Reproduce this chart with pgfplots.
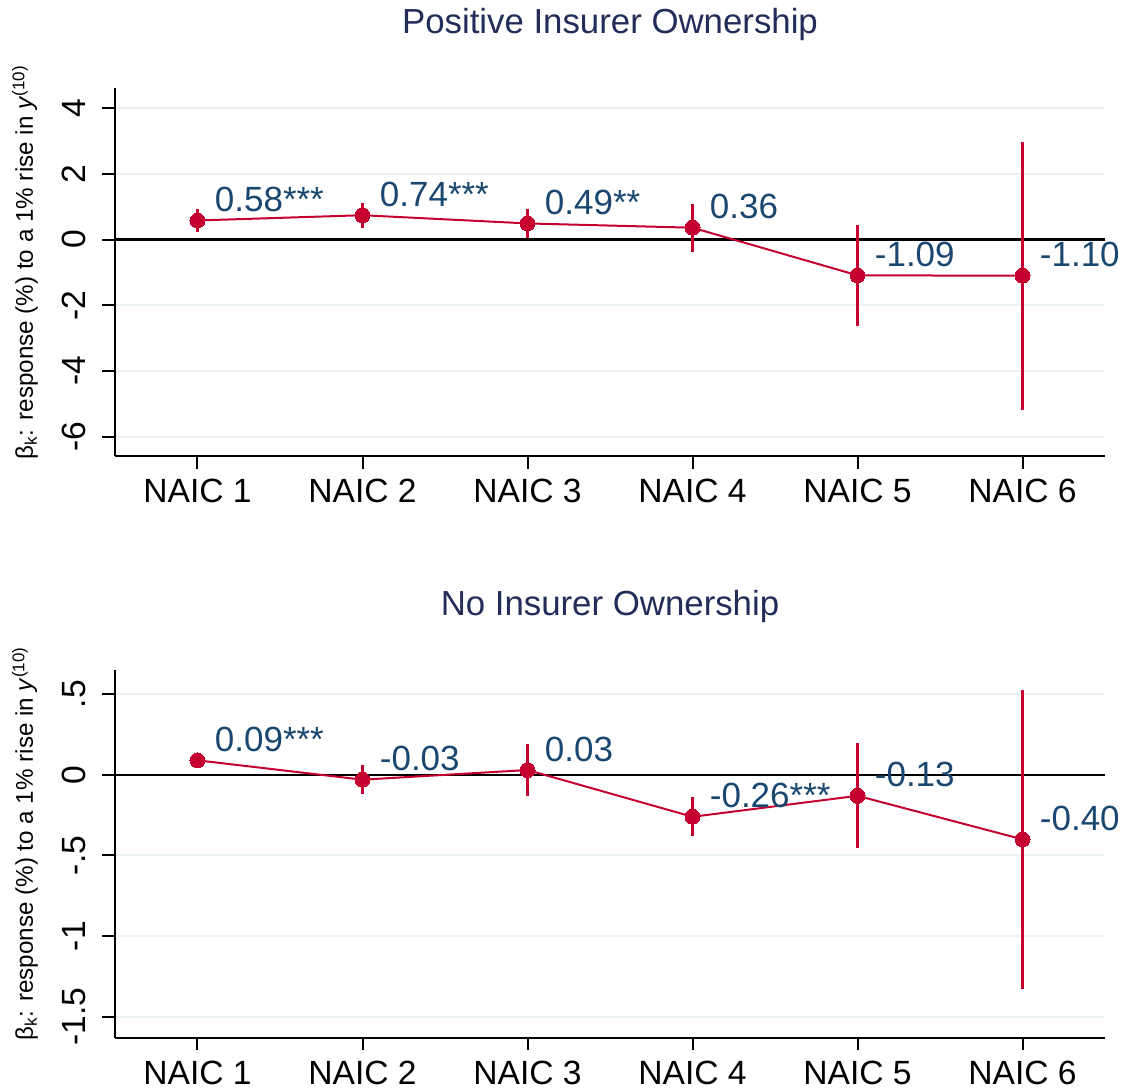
\documentclass[border=0pt]{standalone}
\usepackage{fontspec}
\setmainfont{Liberation Sans}
\usepackage{pgfplots}
\usepackage{pgfplotstable}
\pgfplotsset{compat=1.18}
\definecolor{sred}{RGB}{196,0,48}
\definecolor{lblue}{RGB}{26,71,111}
\definecolor{tblue}{RGB}{35,45,90}
\definecolor{gridc}{RGB}{234,242,243}

\pgfplotstableread{
x y e lab
1 0.58 0.35 0.58***
2 0.74 0.38 0.74***
3 0.49 0.45 0.49**
4 0.36 0.73 0.36
5 -1.09 1.53 -1.09
6 -1.10 4.08 -1.10
}\toptab

\pgfplotstableread{
x y e lab
1 0.09 0.015 0.09***
2 -0.03 0.088 -0.03
3 0.03 0.16 0.03
4 -0.26 0.122 -0.26***
5 -0.13 0.326 -0.13
6 -0.40 0.927 -0.40
}\bottab

\pgfplotsset{
 common/.style={
  scale only axis, width=495pt, height=184pt,
  xmin=0.5, xmax=6.5,
  axis lines*=left,
  axis line style={line width=1pt},
  tick align=outside,
  major tick length=6.25pt,
  tick style={line width=1pt, black},
  xtick={1,...,6},
  xticklabels={NAIC 1,NAIC 2,NAIC 3,NAIC 4,NAIC 5,NAIC 6},
  ymajorgrids, grid style={gridc, line width=1pt},
  ticklabel style={font=\fontsize{16.8}{18}\selectfont},
  xticklabel style={anchor=base, yshift=-17pt},
  yticklabel style={xshift=-8.5pt, rotate=90, anchor=base},
  every axis title/.style={at={(axis description cs:0.5,1)}, anchor=base, yshift=27.3pt, font=\fontsize{17.4}{20}\selectfont, text=tblue},
  every axis y label/.style={at={([xshift=-45pt, yshift=5pt]axis description cs:0,0.5)}, rotate=90, anchor=center, font=\fontsize{12.1}{14}\selectfont},
  ylabel={β\textsubscript{k}: response (\%) to a 1\% rise in \textit{y}\textsuperscript{(10)}},
  clip=false,
 },
 lbls/.style={draw=none, mark=none, nodes near coords, point meta=explicit symbolic,
  every node near coord/.append style={anchor=base west, xshift=8.5pt, yshift=4.5pt, inner sep=0pt, font=\fontsize{17.5}{20}\selectfont, text=lblue}},
 dat/.style={sred, line width=1pt, mark=*, mark size=3.75pt, mark options={fill=sred, draw=sred, line width=0pt},
  error bars/.cd, y dir=both, y explicit, error mark=none, error bar style={line width=1.5pt, sred}},
}

\begin{document}
\begin{tikzpicture}
\useasboundingbox (-57.5pt,-25.65pt) rectangle (505pt,518.85pt);
\begin{axis}[common, at={(0,290.65pt)}, anchor=south west,
  title={Positive Insurer Ownership},
  ymin=-6.6, ymax=4.6, ytick={-6,-4,-2,0,2,4}, yticklabels={-6,-4,-2,0,2,4}]
  \addplot[lbls] table[x=x, y=y, meta=lab] {\toptab};
  \addplot[black, line width=1.2pt] coordinates {(0.5,0) (6.5,0)};
  \addplot[dat] table[x=x, y=y, y error=e] {\toptab};
\end{axis}
\begin{axis}[common, at={(0,0)}, anchor=south west,
  title={No Insurer Ownership},
  ymin=-1.63, ymax=0.652, ytick={-1.5,-1,-0.5,0,0.5}, yticklabels={-1.5,-1,-.5,0,.5}]
  \addplot[lbls] table[x=x, y=y, meta=lab] {\bottab};
  \addplot[black, line width=1.2pt] coordinates {(0.5,0) (6.5,0)};
  \addplot[dat] table[x=x, y=y, y error=e] {\bottab};
\end{axis}
\end{tikzpicture}
\end{document}
